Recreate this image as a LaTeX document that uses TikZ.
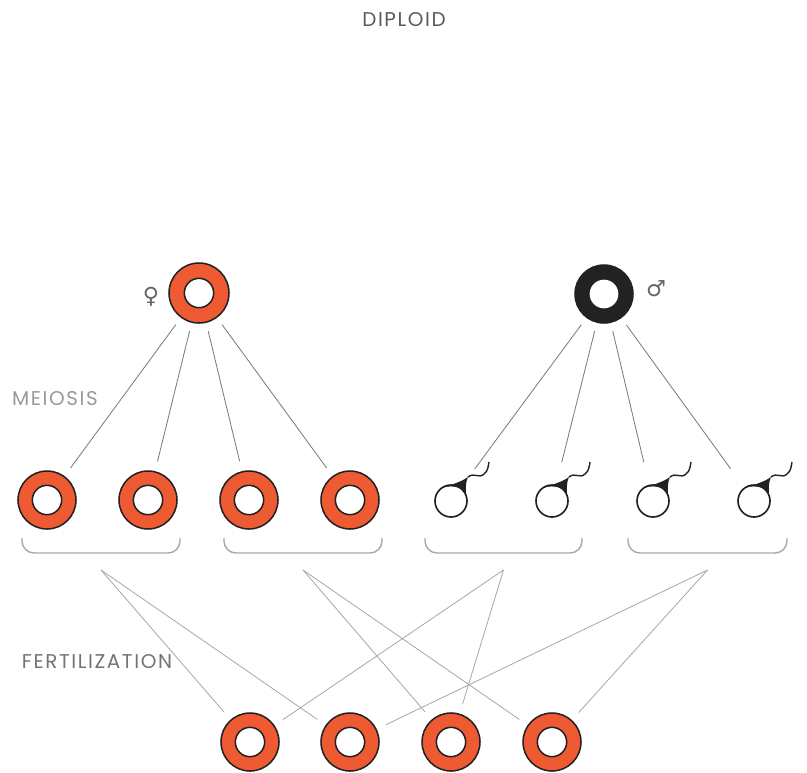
\documentclass[tikz,border=0pt]{standalone}
\usepackage{fontspec}
\setmainfont{Poppins}
\newfontfamily\labelfont[LetterSpace=8]{Poppins}
\newfontfamily\symfont{DejaVu Sans}
\usetikzlibrary{positioning}
\definecolor{eggred}{HTML}{EE5A32}
\definecolor{linegray}{HTML}{7A7A7A}
\definecolor{palegray}{HTML}{A8A8A8}
\definecolor{ink}{HTML}{222222}
\newcommand\ppbb{path picture bounding box}
\tikzstyle{egg} = [circle, draw=ink, line width=1.3pt, fill=eggred, minimum size=1.74cm, inner sep=0pt,
	path picture={\draw[line width=1.3pt, draw=ink, fill=white] (\ppbb.center) circle (0.44cm);}]
\tikzstyle{sperm} = [circle, draw=ink, line width=1.4pt, fill=white, minimum size=0.96cm, inner sep=0pt]
\tikzstyle{meiosis} = [draw=linegray, line width=0.7pt, shorten <=0.25cm]
\tikzstyle{fert} = [draw=palegray, line width=0.7pt, shorten >=0.3cm]
\tikzstyle{brace} = [draw=palegray, line width=1.2pt, rounded corners=0.36cm]
\tikzstyle{label} = [font=\labelfont\fontsize{17}{20}\selectfont]
\tikzset{
	male/.style = {circle, draw=ink, line width=1.3pt, fill=ink, minimum size=1.74cm, inner sep=0pt,
		path picture={\fill[white] (\ppbb.center) circle (0.43cm);},
	}
}

\begin{document}
\begin{tikzpicture}[x=0.03cm, y=-0.03cm]
\useasboundingbox (0,0) rectangle (807,772);

% Labels
\node (diploid) [label, text=black!65] at (404,20) {DIPLOID};
\node (meio) [label, text=black!40] at (55,399) {MEIOSIS};
\node (fertil) [label, text=black!55] at (97,662) {FERTILIZATION};

% Parents
\node (mother) [egg, minimum size=1.8cm] at (199,293) {};
\node (father) [male] at (604,294) {};
\node (fsym) [text=black!60] at (151,297) {\symfont\fontsize{19}{22}\selectfont ♀};
\node (msym) [text=black!60] at (656,289) {\symfont\fontsize{19}{22}\selectfont ♂};

% Gametes
\foreach \i/\x in {1/47, 2/148, 3/249, 4/350}
	\node (e\i) [egg] at (\x,500) {};
\foreach \i/\x in {1/451, 2/552, 3/653, 4/754} {
	\node (s\i) [sperm] at (\x,501) {};
	\fill[ink] (\x-9,488) .. controls (\x+2,484) and (\x+10,482) .. (\x+17,477)
		.. controls (\x+14,484) and (\x+15,489) .. (\x+15,495)
		.. controls (\x+12,488) and (\x+3,484) .. (\x-9,488) -- cycle;
	\draw[ink, line width=1.2pt] (\x+17,477) .. controls (\x+23,472) and (\x+28,479) .. (\x+33,474)
		.. controls (\x+37,471) and (\x+37,467) .. (\x+38,462);
}

% Zygotes
\foreach \i/\x in {1/250, 2/350, 3/451, 4/552}
	\node (z\i) [egg] at (\x,742) {};

% Meiosis lines
\foreach \i in {1,...,4} {
	\draw [meiosis, shorten >=0.3cm] (mother) -- (e\i);
	\draw [meiosis, shorten >=0.69cm] (father) -- (s\i);
}

% Pair brackets and their tips
\foreach \i/\a/\b in {1/22/180, 2/224/382, 3/425/582, 4/628/787} {
	\draw [brace] (\a,538) -- (\a,553) -- (\b,553) -- (\b,538);
	\coordinate (b\i) at ({(\a+\b)/2},570);
}

% Fertilization lines
\draw [fert] (b1) -- (z1);
\draw [fert] (b1) -- (z2);
\draw [fert] (b2) -- (z3);
\draw [fert] (b2) -- (z4);
\draw [fert] (b3) -- (z1);
\draw [fert] (b3) -- (z3);
\draw [fert] (b4) -- (z2);
\draw [fert] (b4) -- (z4);

\end{tikzpicture}
\end{document}
